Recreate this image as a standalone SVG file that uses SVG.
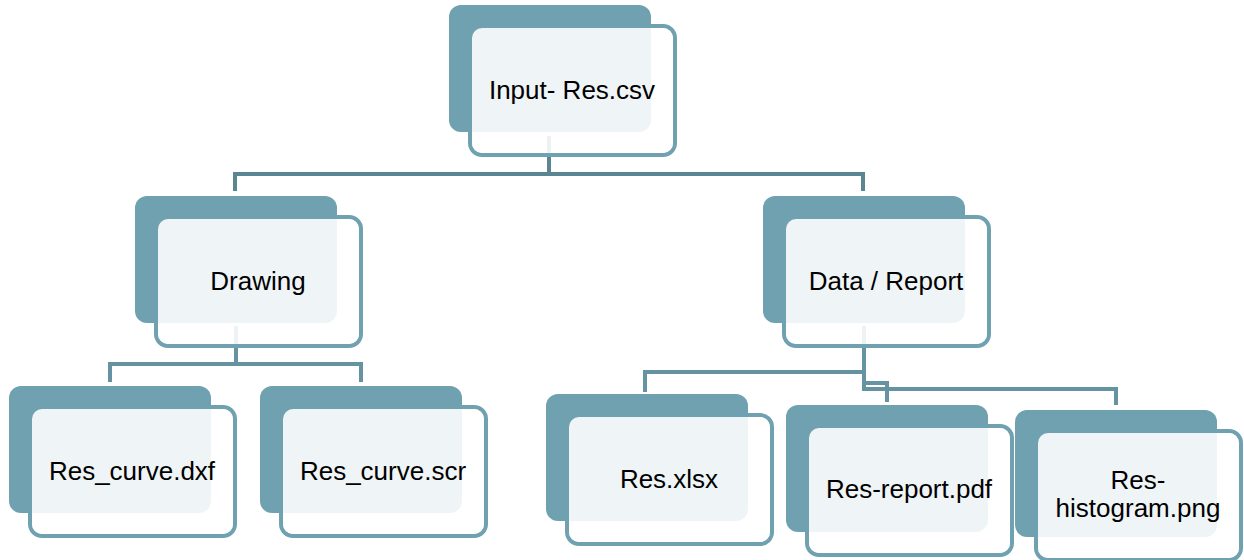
<svg xmlns="http://www.w3.org/2000/svg" width="1244" height="560" viewBox="0 0 1244 560">
<style>
.back{fill:#6fa1b0}
.fs{fill:none;stroke:#6fa1b0;stroke-width:4}
.ff{fill:#ffffff;fill-opacity:0.885}
.t{font-family:"Liberation Sans",Arial,sans-serif;font-size:26px;fill:#000;text-anchor:middle}
.c{fill:none;stroke:#6593a1;stroke-width:4}
.c0{fill:none;stroke:#5a8592;stroke-width:4}
</style>
<defs>
<g id="box">
<rect class="fs" x="21" y="21" width="205" height="129" rx="12"/>
<rect class="back" x="0" y="0" width="202" height="127" rx="12"/>
<rect class="ff" x="23" y="23" width="201" height="125" rx="10"/>
</g>
</defs>
<g id="connectors">
<path class="c0" d="M549 136 V174 M235 191 V174 H863 V191"/>
<path class="c" d="M236 326 V364 M110 382 V364 H361 V382"/>
<path class="c" d="M864 326 V389 H1116 V405 M864 372 H645 V392 M864 383 H887 V402"/>
</g>
<g id="n-input">
<use href="#box" x="449" y="5"/>
<text class="t" x="572" y="99">Input- Res.csv</text>
</g>
<g id="n-drawing">
<use href="#box" x="135" y="196"/>
<text class="t" x="258" y="290">Drawing</text>
</g>
<g id="n-data">
<use href="#box" x="763" y="196"/>
<text class="t" x="886" y="290">Data / Report</text>
</g>
<g id="n-dxf">
<use href="#box" x="9" y="386"/>
<text class="t" x="132" y="480">Res_curve.dxf</text>
</g>
<g id="n-scr">
<use href="#box" x="260" y="386"/>
<text class="t" x="383" y="480">Res_curve.scr</text>
</g>
<g id="n-xlsx">
<use href="#box" x="546" y="394"/>
<text class="t" x="669" y="488">Res.xlsx</text>
</g>
<g id="n-pdf">
<use href="#box" x="786" y="405"/>
<text class="t" x="909" y="498">Res-report.pdf</text>
</g>
<g id="n-png">
<use href="#box" x="1015" y="410"/>
<text class="t" x="1138" y="489">Res-</text>
<text class="t" x="1138" y="517">histogram.png</text>
</g>
</svg>
